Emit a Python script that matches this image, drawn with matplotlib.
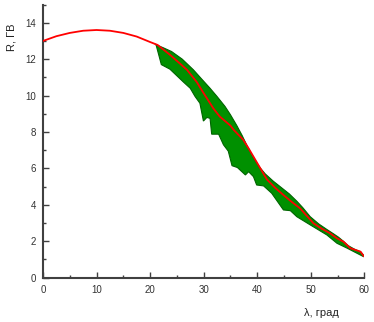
import matplotlib
matplotlib.use("Agg")
import matplotlib.pyplot as plt
from matplotlib.ticker import MultipleLocator

# Red central curve
red_x = [0, 2.5, 5, 7.5, 10, 12.5, 15, 17.5, 20, 21.4, 23.7, 25.6, 26.9, 28.7, 30.0,
         31.2, 31.8, 33.0, 34.0, 35.0, 35.6, 37.4, 38.4, 39.3, 40.2, 41.8, 43.3,
         44.9, 46.5, 48.0, 50.5, 52.0, 53.6, 54.9, 56.1, 57.4, 59.3, 59.9]
red_y = [13.0, 13.26, 13.44, 13.56, 13.6, 13.56, 13.44, 13.24, 12.94, 12.78, 12.24,
         11.75, 11.41, 10.75, 10.13, 9.58, 9.3, 8.85, 8.6, 8.35, 8.12, 7.57, 7.1,
         6.65, 6.2, 5.4, 4.95, 4.54, 4.15, 3.81, 2.99, 2.7, 2.44, 2.16, 1.98,
         1.62, 1.43, 1.19]

# Upper edge of the green band
up_x = [20.9, 22.5, 24.0, 26.0, 28.1, 29.5, 31.2, 32.5, 34.0, 35.0, 36.2, 37.2,
        38.1, 39.0, 39.8, 40.5, 41.5, 43.0, 44.5, 46.0, 47.4, 48.5, 49.9, 51.5,
        53.0, 54.3, 55.2, 56.1, 57.0, 58.2, 59.3, 59.9]
up_y = [12.82, 12.62, 12.42, 12.0, 11.41, 10.95, 10.4, 9.95, 9.4, 8.95, 8.35, 7.8,
        7.25, 6.75, 6.35, 6.05, 5.7, 5.3, 4.95, 4.6, 4.2, 3.85, 3.35, 2.95,
        2.65, 2.4, 2.22, 2.0, 1.76, 1.56, 1.42, 1.22]

# Lower edge of the green band
lo_x = [21.1, 22.1, 23.7, 26.2, 27.5, 28.4, 29.3, 29.96, 30.6, 31.2, 31.5, 32.8,
        33.7, 34.6, 35.3, 36.3, 37.8, 38.4, 39.3, 39.9, 41.2, 42.7, 44.9, 46.2,
        47.4, 49.9, 53.0, 54.9, 56.8, 59.9]
lo_y = [12.8, 11.7, 11.45, 10.75, 10.4, 9.95, 9.58, 8.6, 8.8, 8.75, 7.88, 7.88,
        7.3, 6.95, 6.15, 6.05, 5.64, 5.82, 5.55, 5.09, 5.04, 4.64, 3.72, 3.68,
        3.35, 2.9, 2.35, 1.89, 1.62, 1.15]

plt.rcParams['font.family'] = ['Liberation Sans', 'DejaVu Sans']

fig = plt.figure(figsize=(3.74, 3.22), dpi=100)
ax = fig.add_axes([0.115, 0.1376, 0.859, 0.8484])

band_x = up_x + lo_x[::-1]
band_y = up_y + lo_y[::-1]
ax.fill(band_x, band_y, facecolor='#009000', edgecolor='#006400', linewidth=0.8, zorder=2)
ax.plot(red_x, red_y, color='#ff0000', linewidth=1.3, zorder=3)

ax.set_xlim(0, 60)
ax.set_ylim(0, 15)
ax.xaxis.set_major_locator(MultipleLocator(10))
ax.xaxis.set_minor_locator(MultipleLocator(5))
ax.yaxis.set_major_locator(MultipleLocator(2))
ax.yaxis.set_minor_locator(MultipleLocator(1))
ax.set_yticks(range(0, 15, 2))

for s in ['top', 'right']:
    ax.spines[s].set_visible(False)
for s in ['left', 'bottom']:
    ax.spines[s].set_color('#404040')
    ax.spines[s].set_linewidth(1.5)

ax.tick_params(which='major', direction='in', length=4, width=1.0, color='#404040',
               labelsize=7, labelcolor='#333333', pad=5)
ax.tick_params(which='minor', direction='in', length=2, width=1.0, color='#404040')

fig.text(0.03, 0.885, 'R, ГВ', rotation=90, ha='center', va='center', fontsize=8, color='#222222')
fig.text(0.86, 0.028, 'λ, град', ha='center', va='center', fontsize=8, color='#222222')

fig.savefig('out.png', dpi=100)
